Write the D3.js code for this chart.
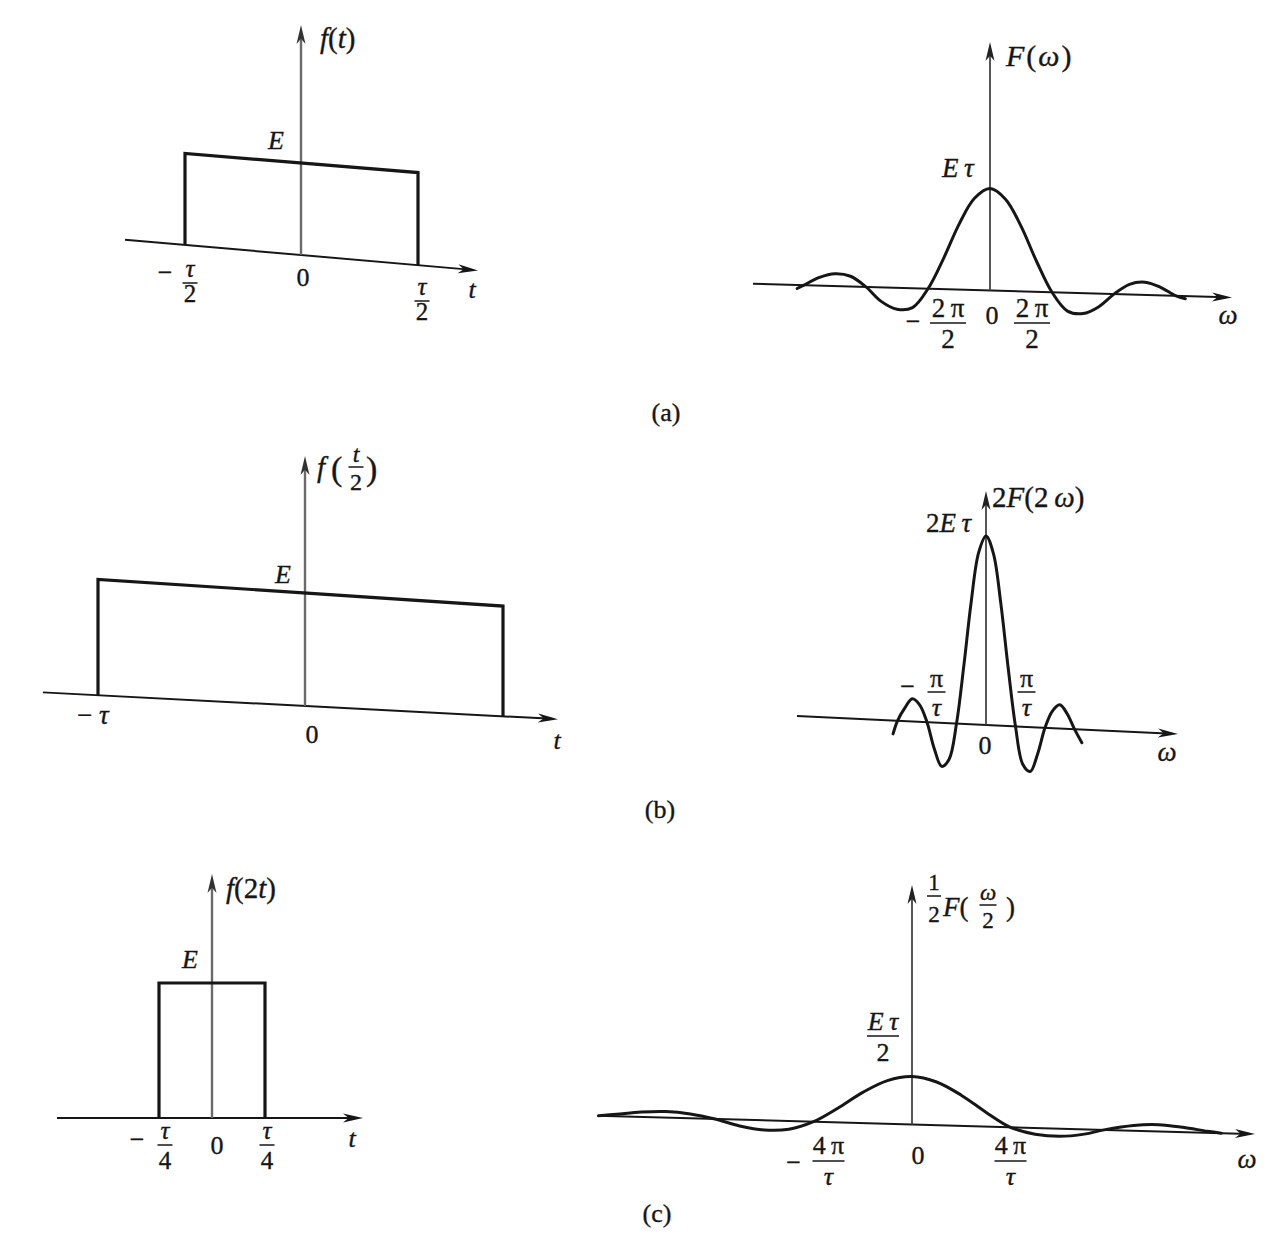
<!DOCTYPE html>
<html><head><meta charset="utf-8">
<script src="https://cdn.jsdelivr.net/npm/d3@7"></script>
<style>body{margin:0;background:#fff}</style>
</head><body>
<svg id="c" width="1269" height="1248"></svg>
<script>
// ================= DATA =================
// time-domain pulses f(t), f(t/2), f(2t): half-width in units of τ, height in units of E
const pulseHalfWidth = [0.5, 1, 0.25];
const pulseHeight = [1, 1, 1];

// spectra: [ω in units of 2π/τ, value in units of Eτ]
const spectrumA = [[-3.11,-0.035],[-3,0],[-2.75,0.08],[-2.5,0.12],[-2.25,0.10],[-2,0],[-1.75,-0.14],[-1.5,-0.21],[-1.25,-0.19],[-1,0],[-0.75,0.30],[-0.5,0.64],[-0.25,0.90],[0,1],[0.25,0.90],[0.5,0.64],[0.75,0.30],[1,0],[1.25,-0.18],[1.5,-0.20],[1.75,-0.13],[2,0],[2.25,0.10],[2.5,0.125],[2.75,0.08],[3,0],[3.15,-0.025]];
const spectrumB = [[-1.575,-0.14],[-1.5,0],[-1.375,0.14],[-1.25,0.24],[-1.125,0.18],[-1,0],[-0.875,-0.28],[-0.75,-0.46],[-0.625,-0.38],[-0.5,0],[-0.375,0.62],[-0.25,1.30],[-0.125,1.82],[0,2],[0.125,1.82],[0.25,1.30],[0.375,0.62],[0.5,0],[0.625,-0.40],[0.75,-0.47],[0.875,-0.28],[1,0],[1.125,0.18],[1.25,0.25],[1.375,0.16],[1.5,0],[1.625,-0.14]];
const spectrumC = [[-6.36,0],[-6,0.02],[-5.5,0.05],[-5,0.0625],[-4.5,0.045],[-4,0],[-3.5,-0.065],[-3,-0.10],[-2.5,-0.085],[-2,0],[-1.5,0.15],[-1,0.32],[-0.5,0.45],[0,0.5],[0.5,0.45],[1,0.32],[1.5,0.15],[2,0],[2.5,-0.065],[3,-0.08],[3.5,-0.05],[3.9,0],[4.5,0.055],[5,0.07],[5.5,0.05],[6,0.015],[6.28,0]];

// tick values (ω in units of 2π/τ)
const spectrumTicks = [[-1, 1], [-0.5, 0.5], [-2, 2]];
const captions = ["(a)", "(b)", "(c)"];

// ================= DRAWING =================
const svg = d3.select("#c");
const INK = "#161616";
const SERIF = "'Liberation Serif','DejaVu Serif',serif";
const TS = "\u2009";

function arrow(g, x1, y1, x2, y2, len, half, color) {
  const a = Math.atan2(y2 - y1, x2 - x1), c = Math.cos(a), s = Math.sin(a);
  const bx = x2 - len * c, by = y2 - len * s, nx = -s, ny = c;
  const mx = x2 - len * 0.72 * c, my = y2 - len * 0.72 * s;
  g.append("path")
    .attr("d", `M${x2},${y2}L${bx + nx * half},${by + ny * half}L${mx},${my}L${bx - nx * half},${by - ny * half}Z`)
    .attr("fill", color);
}
// segs: [text, italic]
function rich(g, x, y, segs, size, anchor) {
  const t = g.append("text").attr("x", x).attr("y", y)
    .attr("font-family", SERIF).attr("font-size", size)
    .attr("text-anchor", anchor || "start").attr("fill", INK)
    .attr("stroke", INK).attr("stroke-width", 0.35);
  segs.forEach(([s, it]) => t.append("tspan").text(s).attr("font-style", it ? "italic" : "normal"));
  return t;
}
function frac(g, cx, num, den, yNum, yBar, yDen, size, w) {
  rich(g, cx, yNum, num, size, "middle");
  g.append("line").attr("x1", cx - w / 2).attr("x2", cx + w / 2)
    .attr("y1", yBar).attr("y2", yBar).attr("stroke", INK).attr("stroke-width", 1.5);
  rich(g, cx, yDen, den, size, "middle");
}
const TAU = [["τ", 1]], PI = [["π", 0]];

// ---------- time panels ----------
function timePanel(i, L) {
  const w = pulseHalfWidth[i], E = pulseHeight[i];
  const g = svg.append("g");
  const x = d3.scaleLinear().domain([-w, 0, w]).range(L.xr);
  const y = d3.scaleLinear().domain([0, E]).range([L.oy, L.oy - L.h]);
  const ox = x(0);
  const P = (tv, fv) => { const X = x(tv); const r = fv / E;
    return [X, y(fv) + (X - ox) * (L.sAxis + (L.sTop - L.sAxis) * r)]; };
  const axY = X => L.oy + (X - ox) * L.sAxis;
  g.append("line").attr("x1", L.x0).attr("y1", axY(L.x0)).attr("x2", L.x1 - 6).attr("y2", axY(L.x1 - 6))
    .attr("stroke", INK).attr("stroke-width", 2);
  arrow(g, L.x0, axY(L.x0), L.x1, axY(L.x1), 20, 4.5, INK);
  g.append("line").attr("x1", ox).attr("y1", axY(ox)).attr("x2", ox).attr("y2", L.top + 8)
    .attr("stroke", "#6a6a6a").attr("stroke-width", 2.4);
  arrow(g, ox, axY(ox), ox, L.top, 19, 4.5, "#333");
  const pts = [[-w, 0], [-w, E], [w, E], [w, 0]].map(d => P(d[0], d[1]));
  g.append("path").attr("d", d3.line()(pts)).attr("fill", "none")
    .attr("stroke", INK).attr("stroke-width", 3.2).attr("stroke-linejoin", "miter");
  return { g, x, y, ox };
}

// (a) f(t)
{
  const p = timePanel(0, { xr: [185, 301, 418], oy: 255, h: 92, sAxis: 0.087, sTop: 0.082, x0: 125, x1: 478, top: 25 });
  const g = p.g, x = p.x;
  rich(g, 320, 48, [["f", 1], ["(", 0], ["t", 1], [")", 0]], 29);
  rich(g, 268, 149, [["E", 1]], 26);
  rich(g, x(-0.5) - 20, 281, [["−", 0]], 26, "middle");
  frac(g, x(-0.5) + 5, TAU, [["2", 0]], 277, 283, 302, 25, 15);
  rich(g, x(0) + 2, 286, [["0", 0]], 26, "middle");
  frac(g, x(0.5) + 4, TAU, [["2", 0]], 295, 301, 320, 25, 15);
  rich(g, 472, 298, [["t", 1]], 26, "middle");
}
// (b) f(t/2)
{
  const p = timePanel(1, { xr: [98, 305, 503], oy: 706, h: 113, sAxis: 0.052, sTop: 0.066, x0: 43, x1: 558, top: 456 });
  const g = p.g, x = p.x;
  rich(g, 317, 477, [["f", 1]], 29);
  rich(g, 331, 480, [["(", 0]], 34);
  frac(g, 356, [["t", 1]], [["2", 0]], 462, 467, 490, 24, 15);
  rich(g, 366, 480, [[")", 0]], 34);
  rich(g, 275, 583, [["E", 1]], 26);
  rich(g, x(-1) - 21, 724, [["− ", 0], ["τ", 1]], 27);
  rich(g, x(0) + 7, 743, [["0", 0]], 26, "middle");
  rich(g, 557, 749, [["t", 1]], 26, "middle");
}
// (c) f(2t)
{
  const p = timePanel(2, { xr: [159, 212, 265], oy: 1118, h: 135, sAxis: 0, sTop: 0, x0: 57, x1: 363, top: 874 });
  const g = p.g, x = p.x;
  rich(g, 226, 898, [["f", 1], ["(", 0], ["2", 0], ["t", 1], [")", 0]], 29);
  rich(g, 182, 968, [["E", 1]], 26);
  rich(g, x(-0.25) - 22, 1148, [["−", 0]], 26, "middle");
  frac(g, x(-0.25) + 6, TAU, [["4", 0]], 1139, 1145, 1169, 25, 15);
  rich(g, x(0) + 5, 1154, [["0", 0]], 26, "middle");
  frac(g, x(0.25) + 2, TAU, [["4", 0]], 1139, 1145, 1169, 25, 15);
  rich(g, 352, 1147, [["t", 1]], 26, "middle");
}

// ---------- spectrum panels ----------
function specPanel(data, L) {
  const g = svg.append("g");
  const x = d3.scaleLinear().domain([0, 1]).range([L.ox, L.ox + L.kx]);
  const y = d3.scaleLinear().domain([0, 1]).range([L.oy, L.oy - L.ky]);
  const axY = X => L.oy + (X - L.ox) * L.s;
  g.append("line").attr("x1", L.x0).attr("y1", axY(L.x0)).attr("x2", L.x1 - 6).attr("y2", axY(L.x1 - 6))
    .attr("stroke", INK).attr("stroke-width", 2);
  arrow(g, L.x0, axY(L.x0), L.x1, axY(L.x1), 20, 4.5, INK);
  g.append("line").attr("x1", L.ox).attr("y1", axY(L.ox)).attr("x2", L.ox).attr("y2", L.top + 8)
    .attr("stroke", "#444").attr("stroke-width", 1.8);
  arrow(g, L.ox, axY(L.ox), L.ox, L.top, 19, 4.5, "#222");
  const line = d3.line()
    .x(d => x(d[0]))
    .y(d => y(d[1]) + (x(d[0]) - L.ox) * L.s)
    .curve(d3.curveCatmullRom.alpha(0.5));
  g.append("path").attr("d", line(data)).attr("fill", "none")
    .attr("stroke", INK).attr("stroke-width", 3).attr("stroke-linecap", "round");
  return { g, x, y };
}

// (a) F(ω)
{
  const p = specPanel(spectrumA, { ox: 990, oy: 290.5, kx: 62, ky: 102, s: 0.029, x0: 753, x1: 1232, top: 42 });
  const g = p.g, x = p.x, [tl, tr] = spectrumTicks[0];
  rich(g, 1006, 66, [["F", 1], ["(", 0], ["ω", 1], [")", 0]], 30).attr("letter-spacing", 2);
  rich(g, 942, 177, [["E", 1], [TS, 0], ["τ", 1]], 27);
  rich(g, x(tl) - 15, 330, [["−", 0]], 26, "middle");
  frac(g, x(tl) + 20, [["2", 0], [TS, 0], ["π", 0]], [["2", 0]], 317, 323, 348, 27, 36);
  rich(g, x(0) + 2, 324, [["0", 0]], 26, "middle");
  frac(g, x(tr) - 20, [["2", 0], [TS, 0], ["π", 0]], [["2", 0]], 317, 323, 348, 27, 36);
  rich(g, 1228, 324, [["ω", 1]], 27, "middle");
}
// (b) 2F(2ω)
{
  const p = specPanel(spectrumB, { ox: 986, oy: 725, kx: 59, ky: 94.5, s: 0.047, x0: 797, x1: 1178, top: 491 });
  const g = p.g, x = p.x, [tl, tr] = spectrumTicks[1];
  rich(g, 992, 507, [["2", 0], ["F", 1], ["(", 0], ["2", 0], [TS, 0], ["ω", 1], [")", 0]], 29);
  rich(g, 926, 532, [["2", 0], ["E", 1], [TS, 0], ["τ", 1]], 27);
  rich(g, x(tl) - 49, 695, [["−", 0]], 26, "middle");
  frac(g, x(tl) - 20, PI, TAU, 687, 692, 716, 26, 18);
  rich(g, x(0) - 1, 754, [["0", 0]], 26, "middle");
  frac(g, x(tr) + 11, PI, TAU, 687, 692, 716, 26, 18);
  rich(g, 1167, 761, [["ω", 1]], 27, "middle");
}
// (c) ½F(ω/2)
{
  const p = specPanel(spectrumC, { ox: 912, oy: 1124.5, kx: 49.25, ky: 96, s: 0.028, x0: 597, x1: 1255, top: 885 });
  const g = p.g, x = p.x, [tl, tr] = spectrumTicks[2];
  frac(g, 934, [["1", 0]], [["2", 0]], 890, 896, 922, 23, 14);
  rich(g, 943, 916, [["F", 1], ["(", 0]], 27);
  frac(g, 988, [["ω", 1]], [["2", 0]], 900, 905, 928, 23, 17);
  rich(g, 1006, 916, [[" )", 0]], 27);
  frac(g, 883, [["E", 1], [TS, 0], ["τ", 1]], [["2", 0]], 1030, 1036, 1061, 26, 32);
  rich(g, x(tl) - 20, 1171, [["−", 0]], 26, "middle");
  frac(g, x(tl) + 15, [["4", 0], [TS, 0], ["π", 0]], TAU, 1154, 1161, 1185, 26, 32);
  rich(g, x(0) + 6, 1164, [["0", 0]], 26, "middle");
  frac(g, x(tr), [["4", 0], [TS, 0], ["π", 0]], TAU, 1154, 1161, 1185, 26, 32);
  rich(g, 1247, 1168, [["ω", 1]], 27, "middle");
}

// captions
const capPos = [[666, 421], [660, 818], [657, 1222]];
captions.forEach((c, i) => rich(svg, capPos[i][0], capPos[i][1], [[c, 0]], 26, "middle"));
</script>
</body></html>
